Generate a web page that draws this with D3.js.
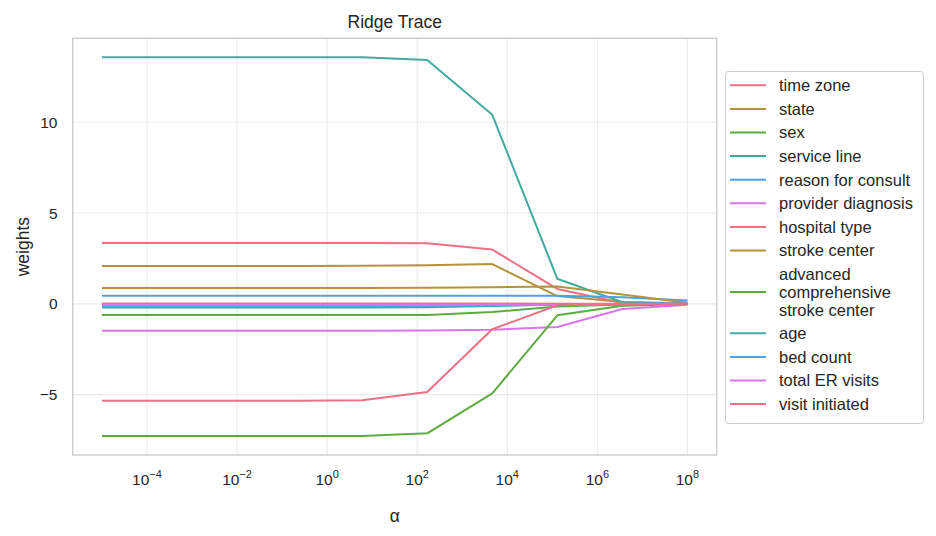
<!DOCTYPE html>
<meta charset="utf-8">
<style>
body { margin: 0; background: #fff; }
svg text { font-family: "Liberation Sans", Arial, sans-serif; fill: #262626; }
.grid line { stroke: #ebebeb; stroke-width: 1.1; }
.trace { fill: none; stroke-width: 2; stroke-linejoin: round; }
</style>
<svg id="chart"></svg>
<script src="https://d3js.org/d3.v7.min.js"></script>
<script>

// alpha values (x)
var alphas = [1e-5, 2.78e-4, 7.74e-3, 0.215, 5.99, 166.8, 4642, 129155, 3.59e6, 1e8];

var features = ["time zone", "state", "sex", "service line", "reason for consult",
  "provider diagnosis", "hospital type", "stroke center",
  "advanced\ncomprehensive\nstroke center", "age", "bed count", "total ER visits",
  "visit initiated"];

// one weight series per feature, same order as features
var timeZone      = [3.35, 3.35, 3.35, 3.35, 3.35, 3.34, 2.99, 0.82, 0.05, 0.00];
var state         = [2.08, 2.08, 2.08, 2.08, 2.10, 2.13, 2.19, 0.43, 0.10, 0.03];
var sex           = [-0.62, -0.62, -0.62, -0.62, -0.62, -0.61, -0.45, -0.15, -0.03, 0.00];
var serviceLine   = [13.58, 13.58, 13.58, 13.58, 13.58, 13.43, 10.41, 1.38, 0.09, 0.01];
var reasonConsult = [0.45, 0.45, 0.45, 0.45, 0.45, 0.45, 0.45, 0.45, 0.37, 0.19];
var providerDiag  = [-1.48, -1.48, -1.48, -1.48, -1.48, -1.47, -1.43, -1.27, -0.28, -0.05];
var hospitalType  = [0.02, 0.02, 0.02, 0.02, 0.02, 0.02, 0.02, 0.01, 0.00, 0.00];
var strokeCenter  = [0.87, 0.87, 0.87, 0.87, 0.87, 0.88, 0.91, 0.96, 0.52, 0.06];
var advancedCsc   = [-7.28, -7.28, -7.28, -7.28, -7.27, -7.13, -4.93, -0.63, -0.10, -0.01];
var age           = [-0.20, -0.20, -0.20, -0.20, -0.20, -0.19, -0.12, -0.04, -0.01, 0.00];
var bedCount      = [-0.13, -0.13, -0.13, -0.13, -0.13, -0.12, -0.08, -0.03, -0.01, 0.00];
var totalEr       = [-0.06, -0.06, -0.06, -0.06, -0.06, -0.06, -0.05, -0.03, -0.01, 0.00];
var visitInit     = [-5.33, -5.33, -5.33, -5.33, -5.31, -4.85, -1.40, -0.08, -0.02, 0.00];

var series = [timeZone, state, sex, serviceLine, reasonConsult, providerDiag,
  hospitalType, strokeCenter, advancedCsc, age, bedCount, totalEr, visitInit];

var xTicks = [1e-4, 1e-2, 1e0, 1e2, 1e4, 1e6, 1e8];
var yTicks = [-5, 0, 5, 10];

// husl-like palette cycling over 6 colours
var palette = ["#ec7184", "#b5933a", "#5dab3f", "#44aa9f", "#4ba2e4", "#db73ec"];

var width = 936, height = 536;
var plot = { left: 72.7, right: 716.7, top: 38.3, bottom: 455 };

var svg = d3.select("#chart").attr("width", width).attr("height", height);

// matplotlib style 5% margins (log space for x)
var lx = d3.extent(alphas).map(Math.log10);
var padX = (lx[1] - lx[0]) * 0.05;
var x = d3.scaleLog()
  .domain([Math.pow(10, lx[0] - padX), Math.pow(10, lx[1] + padX)])
  .range([plot.left, plot.right]);

var allY = d3.merge(series);
var ey = d3.extent(allY);
var padY = (ey[1] - ey[0]) * 0.05;
var y = d3.scaleLinear()
  .domain([ey[0] - padY, ey[1] + padY])
  .range([plot.bottom, plot.top]);

// gridlines
var grid = svg.append("g").attr("class", "grid");
grid.selectAll(".gx").data(xTicks).enter().append("line")
  .attr("x1", x).attr("x2", x)
  .attr("y1", plot.top).attr("y2", plot.bottom);
grid.selectAll(".gy").data(yTicks).enter().append("line")
  .attr("y1", y).attr("y2", y)
  .attr("x1", plot.left).attr("x2", plot.right);

// traces
var line = d3.line()
  .x(function(d, i) { return x(alphas[i]); })
  .y(function(d) { return y(d); });

svg.append("g").selectAll("path")
  .data(series)
  .enter().append("path")
    .attr("class", "trace")
    .attr("stroke", function(d, i) { return palette[i % palette.length]; })
    .attr("d", line);

// frame
svg.append("rect")
  .attr("x", plot.left).attr("y", plot.top)
  .attr("width", plot.right - plot.left).attr("height", plot.bottom - plot.top)
  .attr("fill", "none").attr("stroke", "#cccccc").attr("stroke-width", 1.4);

// x tick labels as 10^n
var xl = svg.append("g").selectAll("text")
  .data(xTicks)
  .enter().append("text")
    .attr("x", x)
    .attr("y", 485)
    .attr("text-anchor", "middle")
    .style("font-size", "15.5px");
xl.append("tspan").text("10");
xl.append("tspan")
  .attr("dy", -7)
  .style("font-size", "11px")
  .text(function(d) { return String(Math.round(Math.log10(d))).replace("-", "\u2212"); });

// y tick labels
svg.append("g").selectAll("text")
  .data(yTicks)
  .enter().append("text")
    .attr("x", 57.5)
    .attr("y", function(d) { return y(d) + 5.6; })
    .attr("text-anchor", "end")
    .style("font-size", "15.5px")
    .text(function(d) { return String(d).replace("-", "\u2212"); });

// title and axis labels
svg.append("text")
  .attr("x", (plot.left + plot.right) / 2).attr("y", 28)
  .attr("text-anchor", "middle").style("font-size", "17.5px")
  .text("Ridge Trace");

svg.append("text")
  .attr("x", (plot.left + plot.right) / 2).attr("y", 522)
  .attr("text-anchor", "middle").style("font-size", "17.5px")
  .text("\u03b1");

svg.append("text")
  .attr("transform", "translate(28.5," + (plot.top + plot.bottom) / 2 + ") rotate(-90)")
  .attr("text-anchor", "middle").style("font-size", "17.5px")
  .text("weights");

// legend
var legend = svg.append("g");
legend.append("rect")
  .attr("x", 725.5).attr("y", 71.5)
  .attr("width", 198).attr("height", 352)
  .attr("rx", 3)
  .attr("fill", "#fff").attr("stroke", "#cccccc").attr("stroke-width", 1);

var lineH = 17.8, gap = 5.8, cursor = 76.4;
features.forEach(function(name, i) {
  var parts = name.split("\n");
  var cy = cursor + parts.length * lineH / 2;
  legend.append("line")
    .attr("x1", 730).attr("x2", 766)
    .attr("y1", cy).attr("y2", cy)
    .attr("stroke", palette[i % palette.length])
    .attr("stroke-width", 2);
  var t = legend.append("text")
    .attr("x", 779)
    .style("font-size", "16.5px");
  parts.forEach(function(p, j) {
    t.append("tspan")
      .attr("x", 779)
      .attr("y", cy + (j - (parts.length - 1) / 2) * lineH + 5.8)
      .text(p);
  });
  cursor += parts.length * lineH + gap;
});

</script>
